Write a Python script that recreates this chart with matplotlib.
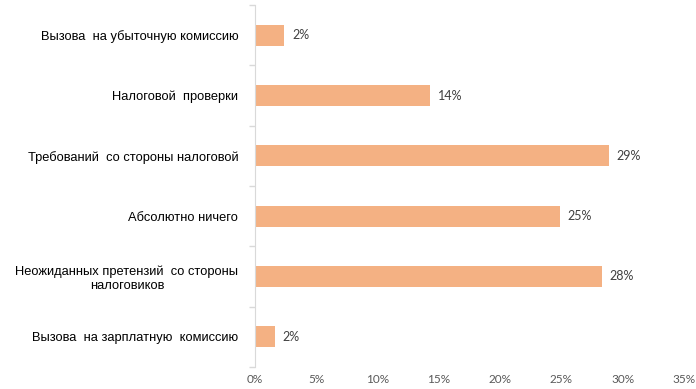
import numpy as np
import matplotlib
matplotlib.use("Agg")
import matplotlib.pyplot as plt
from matplotlib.ticker import FixedLocator, PercentFormatter

# categories from top to bottom, values in percent
categories = [
    "Вызова  на убыточную комиссию",
    "Налоговой  проверки",
    "Требований  со стороны налоговой",
    "Абсолютно ничего",
    "Неожиданных претензий  со стороны\nналоговиков",
    "Вызова  на зарплатную  комиссию",
]
values = [2.4, 14.3, 28.9, 24.9, 28.3, 1.6]
value_labels = ["2%", "14%", "29%", "25%", "28%", "2%"]
x_ticks = [0, 5, 10, 15, 20, 25, 30, 35]

fig = plt.figure(figsize=(6.96, 3.89), dpi=100)
ax = fig.add_axes([255 / 696, 1 - 367 / 389, (684 - 255) / 696, 362 / 389])

y = np.arange(len(categories))
ax.barh(y, values, height=0.35, color="#F4B183")
ax.set_ylim(len(categories) - 0.5, -0.5)
ax.set_xlim(0, 35)

# value labels just right of the bars
for yi, v, lab in zip(y, values, value_labels):
    ax.annotate(lab, (v, yi), xytext=(5.5, 0), textcoords="offset points",
                va="center", ha="left", fontsize=9, color="#404040",
                family=["Lato", "DejaVu Sans"])

# category labels, ticks only at the boundaries
ax.set_yticks(y)
ax.set_yticklabels(categories, fontsize=9.3, family=["Liberation Sans", "DejaVu Sans"])
for t in ax.get_yticklabels():
    t.set_multialignment("center")
ax.yaxis.set_minor_locator(FixedLocator(np.arange(-0.5, len(categories), 1.0)))
ax.tick_params(axis="y", which="major", length=0, pad=12)
ax.tick_params(axis="y", which="minor", length=4, color="#D9D9D9", width=1)

ax.set_xticks(x_ticks)
ax.xaxis.set_major_formatter(PercentFormatter(decimals=0))
ax.tick_params(axis="x", length=0, labelsize=8.5, labelcolor="#595959", pad=5)
for t in ax.get_xticklabels():
    t.set_family(["Lato", "DejaVu Sans"])

for side in ["top", "right", "bottom"]:
    ax.spines[side].set_visible(False)
ax.spines["left"].set_color("#D9D9D9")

fig.savefig("out.png", dpi=100)
